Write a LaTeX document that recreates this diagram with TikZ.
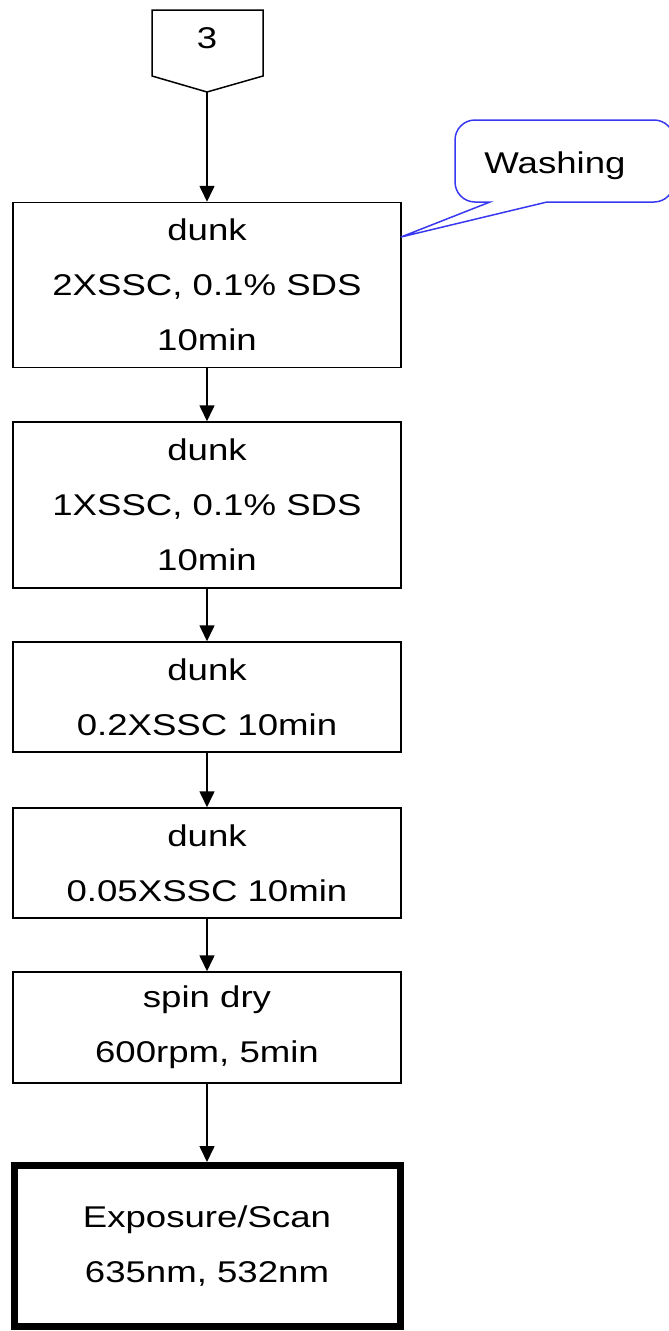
\documentclass[tikz,border=0pt]{standalone}
\usepackage{fontspec}
\setmainfont{Liberation Sans}[FakeStretch=1.22]
\usepackage{tikz}
\usetikzlibrary{arrows.meta,positioning,calc}
\definecolor{note}{HTML}{3838F0}

\begin{document}
\begin{tikzpicture}[x=1pt,y=-1pt,
    every node/.style={font=\fontsize{30}{55}\selectfont, align=center, inner sep=0pt},
    stepbox/.style={draw, line width=1.5pt, minimum width=388pt},
    flow/.style={-{Triangle[length=16pt,width=15pt]}, line width=1.6pt}]
        \useasboundingbox (0,0) rectangle (669,1331);
        % off-page connector
        \draw[line width=1.5pt] (152,10) -- (263,10) -- (263,76) -- (207,92) -- (152,76) -- cycle;
        \node (conn) at (207,38.5) {3};
        \coordinate (conntip) at (207,92);
        % washing steps
        \node[stepbox, minimum height=165pt] (d1) at (207,285) {dunk\\2XSSC, 0.1\% SDS\\10min};
        \node[stepbox, minimum height=166pt] (d2) at (207,505) {dunk\\1XSSC, 0.1\% SDS\\10min};
        \node[stepbox, minimum height=110pt] (d3) at (207,697) {dunk\\0.2XSSC 10min};
        \node[stepbox, minimum height=110pt] (d4) at (207,863) {dunk\\0.05XSSC 10min};
        \node[stepbox, minimum height=111pt] (spin) at (207,1027.5) {spin dry\\600rpm, 5min};
        \node[stepbox, line width=7pt, minimum width=386pt, minimum height=161pt] (scan) at (207,1246) {Exposure/Scan\\635nm, 532nm};
        \draw[flow] (conntip) -- (d1.north);
        \foreach \a/\b in {d1/d2, d2/d3, d3/d4, d4/spin, spin/scan} {
          \draw[flow] (\a.south) -- (\b.north);
        }
        % callout
        \coordinate (washtip) at (401,237);
        \draw[note, line width=1.5pt] (washtip) -- (547,202) [rounded corners=20pt] -- (674,202) -- (674,120) -- (455,120) -- (455,202) [sharp corners] -- (490,202) -- cycle;
        \node (wash) at (555,166) {Washing};
      \end{tikzpicture}
\end{document}
